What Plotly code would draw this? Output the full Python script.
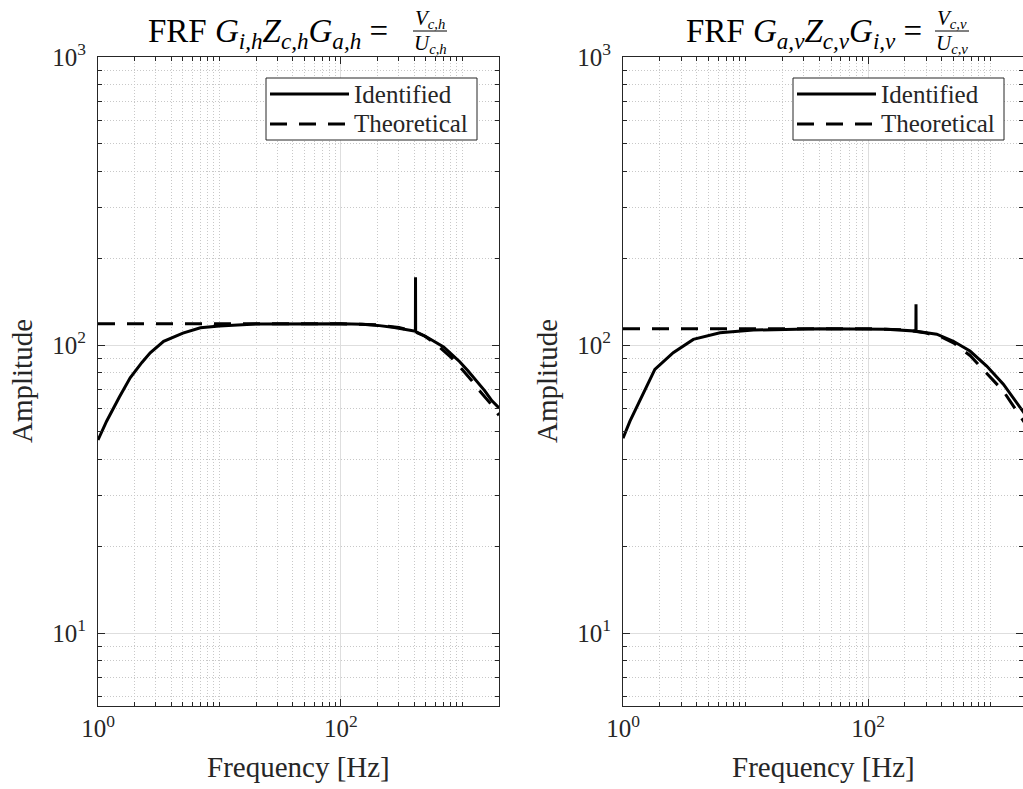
import math
import plotly.graph_objects as go

W, H = 1023, 789

# ---------------- data ----------------
# Left: G_{i,h} Z_{c,h} G_{a,h}
freq_id_h = [1, 1.18, 1.5, 1.84, 2.3, 2.69, 3.47, 5, 6.97, 10, 20, 50, 100, 150, 200,
             275, 350, 410, 411, 412, 500, 590, 700, 811, 950, 1114, 1300, 1528, 1750, 2000]
amp_id_h = [46.8, 54.5, 66, 77, 87, 94, 103, 110, 114.8, 116.5, 118.3, 118.8, 118.6, 118, 117,
            115, 113, 111.6, 172, 111.3, 107, 103, 98.5, 93, 87.5, 81.2, 75, 69.3, 64, 60.5]
freq_th_h = [1, 10, 100, 200, 300, 400, 488, 600, 811, 1000, 1186, 1400, 1683, 2000]
amp_th_h = [118.5, 118.5, 118.5, 117.5, 115, 111.5, 107.5, 101, 90.4, 82, 75.5, 69, 63, 57]

# Right: G_{a,v} Z_{c,v} G_{i,v}
freq_id_v = [1, 1.14, 1.82, 2.57, 3.75, 6.19, 11.6, 40.5, 141, 200, 246, 246.5, 247, 364,
             498, 680, 931, 1273, 1741, 2000]
amp_id_v = [47.5, 54.4, 82.3, 94, 104.6, 110.3, 112.7, 113.9, 113.4, 112.5, 111.8, 138.4, 111.6, 109,
            103, 95.3, 84.5, 73.1, 60.6, 56]
freq_th_v = [1, 10, 100, 200, 300, 400, 498, 680, 931, 1273, 1637, 2000]
amp_th_v = [113.9, 113.9, 113.9, 113, 110, 106.5, 101.8, 92, 80, 69.2, 59, 52]

x_tickvals = [1, 100]
x_ticktext = ["10<sup>0</sup>", "10<sup>2</sup>"]
y_tickvals = [10, 100, 1000]
y_ticktext = ["10<sup>1</sup>", "10<sup>2</sup>", "10<sup>3</sup>"]
x_minor = [2, 3, 4, 5, 6, 7, 8, 9, 10, 20, 30, 40, 50, 60, 70, 80, 90,
           200, 300, 400, 500, 600, 700, 800, 900, 1000]
y_minor = [6, 7, 8, 9, 20, 30, 40, 50, 60, 70, 80, 90,
           200, 300, 400, 500, 600, 700, 800, 900]

legend_labels = ["Identified", "Theoretical"]

# ---------------- style ----------------
FONT = "Liberation Serif"
AX = "#262626"
GRID = "#dedede"
MINOR_GRID = "#c8c8c8"
LW = 3
DASH = "17px,12px"


def px(x):
    return x / W


def py(y):
    return 1 - y / H


fig = go.Figure()

fig.add_trace(go.Scatter(x=freq_th_h, y=amp_th_h, mode="lines", xaxis="x", yaxis="y",
                         line=dict(color="black", width=LW, dash=DASH), showlegend=False,
                         name=legend_labels[1]))
fig.add_trace(go.Scatter(x=freq_id_h, y=amp_id_h, mode="lines", xaxis="x", yaxis="y",
                         line=dict(color="black", width=LW), showlegend=False,
                         name=legend_labels[0]))
fig.add_trace(go.Scatter(x=freq_th_v, y=amp_th_v, mode="lines", xaxis="x2", yaxis="y2",
                         line=dict(color="black", width=LW, dash=DASH), showlegend=False,
                         name=legend_labels[1]))
fig.add_trace(go.Scatter(x=freq_id_v, y=amp_id_v, mode="lines", xaxis="x2", yaxis="y2",
                         line=dict(color="black", width=LW), showlegend=False,
                         name=legend_labels[0]))
# invisible trace to carry the right-hand tick axis of the right panel
fig.add_trace(go.Scatter(x=[10], y=[10], mode="markers", xaxis="x2", yaxis="y3",
                         marker=dict(opacity=0), showlegend=False, hoverinfo="skip"))

minor_x = dict(tickvals=x_minor, ticks="inside", ticklen=4, tickcolor=AX,
               showgrid=True, griddash="1px,2px", gridcolor=MINOR_GRID, gridwidth=1)
minor_y = dict(tickvals=y_minor, ticks="inside", ticklen=4, tickcolor=AX,
               showgrid=True, griddash="1px,2px", gridcolor=MINOR_GRID, gridwidth=1)

xcommon = dict(type="log", tickmode="array", tickvals=x_tickvals, ticktext=x_ticktext,
               ticks="inside", ticklen=7, tickcolor=AX, showline=True, linecolor=AX,
               linewidth=1.2, showgrid=True, gridcolor=GRID, gridwidth=1, zeroline=False,
               tickfont=dict(family=FONT, size=25, color=AX), mirror="ticks",
               ticklabelstandoff=0, automargin=False)
ycommon = dict(type="log", tickmode="array", tickvals=y_tickvals, ticktext=y_ticktext,
               ticks="inside", ticklen=7, tickcolor=AX, showline=True, linecolor=AX,
               linewidth=1.2, showgrid=True, gridcolor=GRID, gridwidth=1, zeroline=False,
               tickfont=dict(family=FONT, size=25, color=AX), ticklabelstandoff=6,
               automargin=False)

yr = [math.log10(5.58), 3]

fig.update_layout(
    template="none",
    width=W, height=H,
    margin=dict(l=0, r=0, t=0, b=0, pad=0),
    paper_bgcolor="white", plot_bgcolor="white",
    showlegend=False,
    xaxis=dict(domain=[px(98), px(499)], range=[0, math.log10(2000)], anchor="y",
               minor=minor_x, **xcommon),
    yaxis=dict(domain=[py(706), py(57)], range=yr, anchor="x", mirror="ticks",
               minor=minor_y, **ycommon),
    xaxis2=dict(domain=[px(623), 1.0], range=[0, 400 / 122.5], anchor="y2",
                minor=minor_x, **xcommon),
    yaxis2=dict(domain=[py(706), py(57)], range=yr, anchor="x2", mirror=False,
                minor=minor_y, **ycommon),
    yaxis3=dict(type="log", range=yr, overlaying="y2", side="right", anchor="x2",
                tickmode="array", tickvals=y_tickvals, ticks="inside", ticklen=7,
                tickcolor=AX, showticklabels=False, showline=False, showgrid=False,
                zeroline=False, automargin=False,
                minor=dict(tickvals=y_minor, ticks="inside", ticklen=4, tickcolor=AX,
                           showgrid=False)),
)

shapes = []
annotations = []
tfont = dict(family=FONT, size=33, color="black")
ffont = dict(family=FONT, size=21, color="black")
lfont = dict(family=FONT, size=25, color=AX)


def add_panel_text(x0, eq_text, num_text, den_text, eq_right, frac_c, leg_l, leg_r, xlab_c):
    # title
    annotations.append(dict(x=px(eq_right), y=py(34), xref="paper", yref="paper",
                            text=eq_text, showarrow=False, xanchor="right", yanchor="middle",
                            font=tfont))
    annotations.append(dict(x=px(frac_c), y=py(19), xref="paper", yref="paper",
                            text=num_text, showarrow=False, xanchor="center", yanchor="middle",
                            font=ffont))
    annotations.append(dict(x=px(frac_c), y=py(44), xref="paper", yref="paper",
                            text=den_text, showarrow=False, xanchor="center", yanchor="middle",
                            font=ffont))
    shapes.append(dict(type="line", xref="paper", yref="paper",
                       x0=px(frac_c - 17), x1=px(frac_c + 17), y0=py(31), y1=py(31),
                       line=dict(color="black", width=1)))
    # axis titles
    annotations.append(dict(x=px(xlab_c), y=py(767), xref="paper", yref="paper",
                            text="Frequency [Hz]", showarrow=False, xanchor="center",
                            yanchor="middle", font=dict(family=FONT, size=29, color=AX)))
    annotations.append(dict(x=px(x0 - 76), y=py(381), xref="paper", yref="paper",
                            text="Amplitude", showarrow=False, textangle=-90,
                            xanchor="center", yanchor="middle",
                            font=dict(family=FONT, size=29, color=AX)))
    # legend box
    shapes.append(dict(type="rect", xref="paper", yref="paper",
                       x0=px(leg_l), x1=px(leg_r), y0=py(140), y1=py(78),
                       line=dict(color=AX, width=1), fillcolor="white", layer="above"))
    shapes.append(dict(type="line", xref="paper", yref="paper",
                       x0=px(leg_l + 4), x1=px(leg_l + 83), y0=py(94), y1=py(94),
                       line=dict(color="black", width=LW), layer="above"))
    shapes.append(dict(type="line", xref="paper", yref="paper",
                       x0=px(leg_l + 4), x1=px(leg_l + 83), y0=py(124), y1=py(124),
                       line=dict(color="black", width=LW, dash=DASH), layer="above"))
    for lab, yy in zip(legend_labels, [94, 124]):
        annotations.append(dict(x=px(leg_l + 86), y=py(yy), xref="paper", yref="paper",
                                text=lab, showarrow=False, xanchor="left", yanchor="middle",
                                font=lfont))


add_panel_text(98,
               "FRF <i>G</i><sub><i>i,h</i></sub><i>Z</i><sub><i>c,h</i></sub><i>G</i><sub><i>a,h</i></sub> =",
               "<i>V</i><sub><i>c,h</i></sub>", "<i>U</i><sub><i>c,h</i></sub>",
               390, 430, 266, 477, 298)
add_panel_text(623,
               "FRF <i>G</i><sub><i>a,v</i></sub><i>Z</i><sub><i>c,v</i></sub><i>G</i><sub><i>i,v</i></sub> =",
               "<i>V</i><sub><i>c,v</i></sub>", "<i>U</i><sub><i>c,v</i></sub>",
               924, 952, 793, 1004, 823)

fig.update_layout(shapes=shapes, annotations=annotations)

fig.write_html("out.html")
